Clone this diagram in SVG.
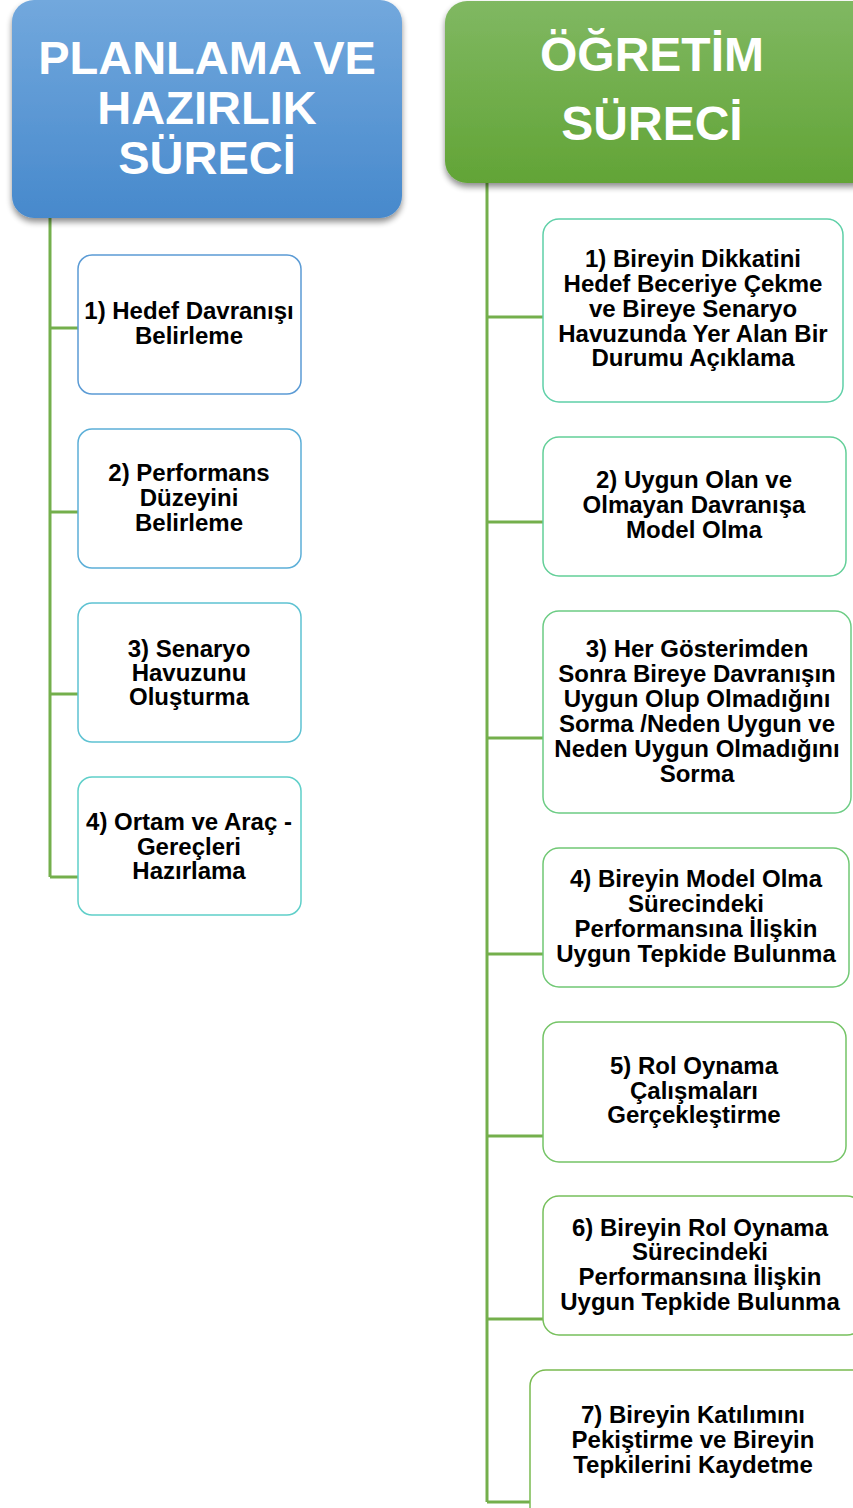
<svg xmlns="http://www.w3.org/2000/svg" width="853" height="1508" viewBox="0 0 853 1508">
<defs>
<linearGradient id="gBlue" x1="0" y1="0" x2="0" y2="1">
<stop offset="0" stop-color="#72a8dd"/>
<stop offset="1" stop-color="#4789cc"/>
</linearGradient>
<linearGradient id="gGreen" x1="0" y1="0" x2="0" y2="1">
<stop offset="0" stop-color="#80b862"/>
<stop offset="1" stop-color="#62a436"/>
</linearGradient>
<filter id="sh" x="-10%" y="-10%" width="120%" height="130%">
<feGaussianBlur in="SourceAlpha" stdDeviation="3"/>
<feOffset dx="0" dy="4"/>
<feComponentTransfer><feFuncA type="linear" slope="0.45"/></feComponentTransfer>
<feMerge><feMergeNode/><feMergeNode in="SourceGraphic"/></feMerge>
</filter>
</defs>
<style>
.hd{font-family:"Liberation Sans",Arial,sans-serif;font-weight:bold;fill:#ffffff;text-anchor:middle}
.tx{font-family:"Liberation Sans",Arial,sans-serif;font-weight:bold;font-size:24px;fill:#000000;text-anchor:middle}
.bx{fill:#ffffff;stroke-width:1.5}
.cn{stroke:#74af4c;stroke-width:3;fill:none}
</style>
<g id="connectors">
<path class="cn" d="M50,218 V877 M50,328 H78 M50,512 H78 M50,694 H78 M50,877 H78"/>
<path class="cn" d="M487,183 V1502 M487,317 H543 M487,522 H543 M487,738 H543 M487,954 H543 M487,1136 H543 M487,1319 H543 M487,1502 H530"/>
</g>
<g id="header-left">
<rect x="12" y="0" width="390" height="218" rx="22" fill="url(#gBlue)" filter="url(#sh)"/>
<text class="hd" font-size="47" x="207" y="74">PLANLAMA VE</text>
<text class="hd" font-size="47" x="207" y="124">HAZIRLIK</text>
<text class="hd" font-size="47" x="207" y="174">SÜRECİ</text>
</g>
<g id="header-right">
<rect x="445" y="1" width="430" height="182" rx="22" fill="url(#gGreen)" filter="url(#sh)"/>
<text class="hd" font-size="48" x="652" y="71">ÖĞRETİM</text>
<text class="hd" font-size="48" x="652" y="140">SÜRECİ</text>
</g>
<g id="left-1">
<rect class="bx" x="78" y="255" width="223" height="139" rx="14" stroke="#5b9bd5"/>
<text class="tx" x="189" y="319" font-size="22">1) Hedef Davranışı</text>
<text class="tx" x="189" y="344">Belirleme</text>
</g>
<g id="left-2">
<rect class="bx" x="78" y="429" width="223" height="139" rx="14" stroke="#5cafd8"/>
<text class="tx" x="189" y="481">2) Performans</text>
<text class="tx" x="189" y="506">Düzeyini</text>
<text class="tx" x="189" y="531">Belirleme</text>
</g>
<g id="left-3">
<rect class="bx" x="78" y="603" width="223" height="139" rx="14" stroke="#5ec2d2"/>
<text class="tx" x="189" y="657">3) Senaryo</text>
<text class="tx" x="189" y="681">Havuzunu</text>
<text class="tx" x="189" y="705">Oluşturma</text>
</g>
<g id="left-4">
<rect class="bx" x="78" y="777" width="223" height="138" rx="14" stroke="#5fcfc9"/>
<text class="tx" x="189" y="830">4) Ortam ve Araç -</text>
<text class="tx" x="189" y="855">Gereçleri</text>
<text class="tx" x="189" y="879">Hazırlama</text>
</g>
<g id="right-1">
<rect class="bx" x="543" y="219" width="300" height="183" rx="16" stroke="#5fd0a8"/>
<text class="tx" x="693" y="267">1) Bireyin Dikkatini</text>
<text class="tx" x="693" y="292">Hedef Beceriye Çekme</text>
<text class="tx" x="693" y="317">ve Bireye Senaryo</text>
<text class="tx" x="693" y="342">Havuzunda Yer Alan Bir</text>
<text class="tx" x="693" y="366">Durumu Açıklama</text>
</g>
<g id="right-2">
<rect class="bx" x="543" y="437" width="303" height="139" rx="16" stroke="#63cf98"/>
<text class="tx" x="694" y="488">2) Uygun Olan ve</text>
<text class="tx" x="694" y="513">Olmayan Davranışa</text>
<text class="tx" x="694" y="538">Model Olma</text>
</g>
<g id="right-3">
<rect class="bx" x="543" y="611" width="308" height="202" rx="16" stroke="#6ccc84"/>
<text class="tx" x="697" y="657">3) Her Gösterimden</text>
<text class="tx" x="697" y="682">Sonra Bireye Davranışın</text>
<text class="tx" x="697" y="707">Uygun Olup Olmadığını</text>
<text class="tx" x="697" y="732">Sorma /Neden Uygun ve</text>
<text class="tx" x="697" y="757">Neden Uygun Olmadığını</text>
<text class="tx" x="697" y="782">Sorma</text>
</g>
<g id="right-4">
<rect class="bx" x="543" y="848" width="306" height="139" rx="16" stroke="#70c874"/>
<text class="tx" x="696" y="887">4) Bireyin Model Olma</text>
<text class="tx" x="696" y="912">Sürecindeki</text>
<text class="tx" x="696" y="937">Performansına İlişkin</text>
<text class="tx" x="696" y="962">Uygun Tepkide Bulunma</text>
</g>
<g id="right-5">
<rect class="bx" x="543" y="1022" width="303" height="140" rx="16" stroke="#74c466"/>
<text class="tx" x="694" y="1074">5) Rol Oynama</text>
<text class="tx" x="694" y="1099">Çalışmaları</text>
<text class="tx" x="694" y="1123">Gerçekleştirme</text>
</g>
<g id="right-6">
<rect class="bx" x="543" y="1196" width="320" height="139" rx="16" stroke="#77c05c"/>
<text class="tx" x="700" y="1236">6) Bireyin Rol Oynama</text>
<text class="tx" x="700" y="1260">Sürecindeki</text>
<text class="tx" x="700" y="1285">Performansına İlişkin</text>
<text class="tx" x="700" y="1310">Uygun Tepkide Bulunma</text>
</g>
<g id="right-7">
<rect class="bx" x="530" y="1370" width="340" height="160" rx="16" stroke="#79bb50"/>
<text class="tx" x="693" y="1423">7) Bireyin Katılımını</text>
<text class="tx" x="693" y="1448">Pekiştirme ve Bireyin</text>
<text class="tx" x="693" y="1473">Tepkilerini Kaydetme</text>
</g>
</svg>
